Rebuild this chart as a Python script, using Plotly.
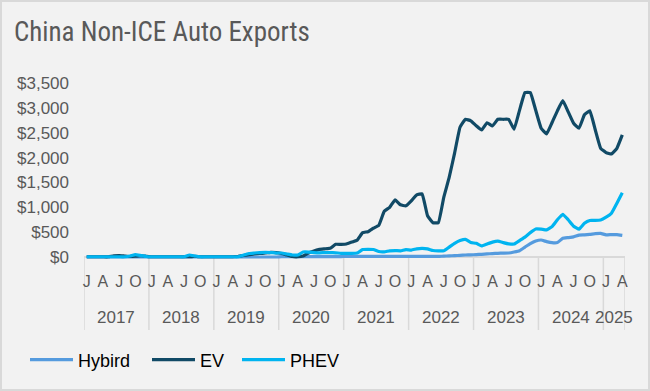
import plotly.graph_objects as go

# ---- data -----------------------------------------------------------------
years = ["2017", "2018", "2019", "2020", "2021", "2022", "2023", "2024", "2025"]
months_per_year = [12, 12, 12, 12, 12, 12, 12, 12, 4]
month_letters = ["J", "A", "J", "O"]          # Jan, Apr, Jul, Oct labels

hybrid = [
    0, 0, 0, 0, 0, 0, 0, 0, 0, 0, 0, 0,
    0, 0, 0, 0, 0, 0, 0, 0, 0, 0, 0, 0,
    0, 0, 0, 0, 0, 0, 0, 0, 0, 0, 0, 0,
    8, 8, 8, 8, 8, 8, 8, 8, 8, 8, 8, 8,
    12, 12, 12, 12, 12, 12, 12, 12, 12, 12, 12, 12,
    12, 12, 12, 12, 12, 12, 18, 22, 28, 33, 40, 42,
    48, 55, 62, 70, 75, 78, 80, 100, 127, 200, 270, 322,
    342, 310, 288, 290, 376, 390, 405, 440, 445, 455, 470, 476,
    445, 450, 450, 436,
]

ev = [
    5, 5, 5, 5, 5, 25, 30, 20, 10, 15, 25, 15,
    5, 5, 5, 5, 5, 5, 5, 5, 15, 5, 5, 5,
    5, 5, 5, 5, 15, 30, 45, 60, 70, 80, 95, 90,
    70, 40, 10, 5, 20, 80, 120, 155, 165, 175, 255, 255,
    262, 300, 340, 490, 510, 580, 640, 920, 1000, 1150, 1050, 1030,
    1130, 1250, 1270, 830, 690, 690, 1200, 1600, 2090, 2610, 2770, 2740,
    2640, 2555, 2700, 2636, 2770, 2770, 2770, 2570, 2950, 3306, 3306, 2950,
    2590, 2475, 2700, 2940, 3146, 2920, 2690, 2590, 2860, 2940, 2560, 2187,
    2099, 2072, 2187, 2455,
]

phev = [
    5, 5, 5, 5, 5, 5, 5, 5, 20, 50, 30, 10,
    5, 5, 5, 5, 5, 5, 5, 40, 20, 5, 5, 5,
    5, 5, 5, 5, 5, 40, 70, 80, 90, 95, 90, 80,
    80, 60, 40, 40, 100, 100, 90, 85, 90, 88, 85, 75,
    75, 72, 80, 150, 155, 150, 110, 105, 125, 130, 125, 150,
    140, 165, 175, 165, 130, 123, 125, 200, 275, 330, 356, 290,
    275, 221, 260, 300, 320, 290, 265, 260, 330, 400, 490, 563,
    560, 545, 610, 750, 860, 750, 620, 560, 680, 735, 735, 745,
    800, 880, 1080, 1294,
]

y_ticks = [0, 500, 1000, 1500, 2000, 2500, 3000, 3500]
y_tick_labels = ["$0", "$500", "$1,000", "$1,500", "$2,000", "$2,500", "$3,000", "$3,500"]

series_names = ["Hybird", "EV", "PHEV"]
series_colors = ["#559BDE", "#114A66", "#00B4F0"]

# ---- derived positions (category slots) -----------------------------------
n = sum(months_per_year)
x_idx = list(range(n))
month_tickvals = [i for i in x_idx if i % 3 == 0]
month_ticktext = [month_letters[(i % 12) // 3] for i in month_tickvals]
starts = [sum(months_per_year[:k]) for k in range(len(years))]
year_bounds = [s - 0.5 for s in starts] + [n - 0.5]
year_centers = [s + (m - 1) / 2 for s, m in zip(starts, months_per_year)]

GRAY = "#D9D9D9"
TXT = "#595959"
BG = "#F2F2F2"

W, H = 650, 391
ML, MR, MT, MB = 84, 25, 83, 132
pw, ph = W - ML - MR, H - MT - MB


def px_to_paper_x(px):
    return (px - ML) / pw


def px_to_paper_y(py):
    return (H - MB - py) / ph


fig = go.Figure()
legend_ids = ["legend", "legend2", "legend3"]
for name, vals, col, lg in zip(series_names, [hybrid, ev, phev], series_colors, legend_ids):
    fig.add_trace(go.Scatter(x=x_idx, y=vals, name=name, mode="lines", legend=lg,
                             line=dict(color=col, width=3.2, shape="spline", smoothing=0.3)))

tick_font = dict(family="Liberation Sans, Arial, sans-serif", size=17, color=TXT)
legend_font = dict(family="Liberation Sans, Arial, sans-serif", size=18, color="#000000")
legend_x_px = [25, 147, 237]


def legend_cfg(xpx):
    return dict(orientation="h", xref="container", yref="container",
                x=xpx / W, xanchor="left", y=1 - 360 / H, yanchor="middle",
                font=legend_font, itemwidth=43, bgcolor="rgba(0,0,0,0)")


shapes = [dict(type="rect", xref="paper", yref="paper",
               x0=px_to_paper_x(1), x1=px_to_paper_x(W - 1),
               y0=px_to_paper_y(H - 1), y1=px_to_paper_y(1),
               line=dict(color=GRAY, width=2), fillcolor="rgba(0,0,0,0)", layer="below")]
for b in year_bounds:
    shapes.append(dict(type="line", xref="x", yref="paper", x0=b, x1=b,
                       y0=px_to_paper_y(257), y1=px_to_paper_y(330),
                       line=dict(color=GRAY, width=1.5), layer="below"))

annotations = [dict(text=yr, xref="x", yref="paper", x=c, y=px_to_paper_y(317),
                    xanchor="center", yanchor="middle", showarrow=False, font=tick_font)
               for yr, c in zip(years, year_centers)]

fig.update_layout(
    width=W, height=H,
    margin=dict(l=ML, r=MR, t=MT, b=MB),
    paper_bgcolor=BG, plot_bgcolor=BG,
    title=dict(text="China Non-ICE Auto Exports", x=14 / W, xanchor="left", xref="container",
               y=1 - 22 / H, yanchor="top", yref="container",
               font=dict(family="Liberation Sans Narrow, Arial Narrow, Roboto Condensed, sans-serif",
                         size=27, color=TXT)),
    xaxis=dict(range=[-0.5, n - 0.5], tickvals=month_tickvals, ticktext=month_ticktext,
               ticks="", showgrid=False, zeroline=False, showline=False, automargin=False,
               tickfont=dict(family="Liberation Sans, Arial, sans-serif", size=16, color=TXT),
               ticklabelstandoff=11),
    yaxis=dict(range=[-40, 3500], tickvals=y_ticks, ticktext=y_tick_labels,
               ticks="", showgrid=False, zeroline=True, zerolinecolor=GRAY, zerolinewidth=1.5,
               showline=False, automargin=False, tickfont=tick_font, ticklabelstandoff=14),
    legend=legend_cfg(legend_x_px[0]),
    legend2=legend_cfg(legend_x_px[1]),
    legend3=legend_cfg(legend_x_px[2]),
    showlegend=True,
    shapes=shapes,
    annotations=annotations,
)

# remove the browser's default 8px body margin so the 650x391 figure fills the window
fig.write_html("out.html", config={"displayModeBar": False},
               post_script="document.body.style.margin='0';")
